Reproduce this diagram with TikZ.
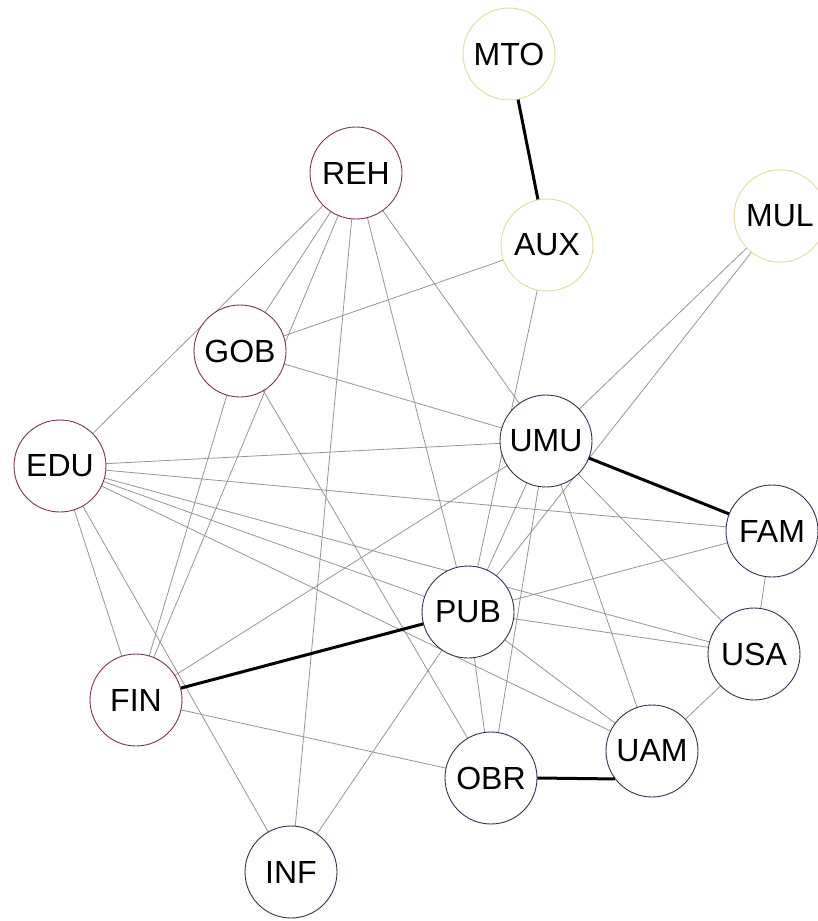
\documentclass[tikz,border=0pt]{standalone}
\usepackage{fontspec}
\setmainfont{Liberation Sans}
\definecolor{redb}{RGB}{125,55,65}
\definecolor{yelb}{RGB}{228,218,150}
\definecolor{blub}{RGB}{50,50,85}
\definecolor{edgeg}{RGB}{150,150,150}
\begin{document}
\begin{tikzpicture}[x=1pt,y=-1pt,
  vnode/.style={circle,fill=white,minimum size=92pt,inner sep=0pt,line width=0.9pt,font=\fontsize{32}{32}\selectfont},
  rnode/.style={vnode,draw=redb},
  ynode/.style={vnode,draw=yelb},
  bnode/.style={vnode,draw=blub},
  thin/.style={draw=edgeg,line width=0.8pt},
  strong/.style={draw=black,line width=3pt}]
\useasboundingbox (0,0) rectangle (817,921);
\fill[white] (0,0) rectangle (817,921);
% node centres
\coordinate (cMTO) at (509,54);
\coordinate (cREH) at (356,173);
\coordinate (cAUX) at (547,245);
\coordinate (cMUL) at (780,216);
\coordinate (cGOB) at (240,351);
\coordinate (cUMU) at (546,441);
\coordinate (cEDU) at (60,466);
\coordinate (cFAM) at (772,531);
\coordinate (cPUB) at (468,612);
\coordinate (cUSA) at (754,654);
\coordinate (cFIN) at (136,700);
\coordinate (cUAM) at (652,751);
\coordinate (cOBR) at (491,778);
\coordinate (cINF) at (291,872);
% thin edges
\foreach \a/\b in {REH/EDU,REH/GOB,REH/FIN,REH/INF,REH/PUB,REH/UMU,
  GOB/AUX,GOB/UMU,GOB/OBR,GOB/FIN,
  EDU/UMU,EDU/FAM,EDU/USA,EDU/PUB,EDU/UAM,EDU/FIN,EDU/INF,
  FIN/UMU,FIN/OBR,INF/PUB,
  UMU/MUL,UMU/PUB,UMU/OBR,UMU/UAM,UMU/USA,
  MUL/PUB,AUX/PUB,
  PUB/FAM,PUB/USA,PUB/UAM,PUB/OBR,
  FAM/USA,USA/UAM}
  \draw[thin] (c\a) -- (c\b);
% thick edges
\foreach \a/\b in {MTO/AUX,UMU/FAM,FIN/PUB}
  \draw[strong] (c\a) -- (c\b);
% nodes
\node[ynode] (MTO) at (cMTO) {MTO};
\node[rnode] (REH) at (cREH) {REH};
\node[ynode] (AUX) at (cAUX) {AUX};
\node[ynode] (MUL) at (cMUL) {MUL};
\node[rnode] (GOB) at (cGOB) {GOB};
\node[bnode] (UMU) at (cUMU) {UMU};
\node[rnode] (EDU) at (cEDU) {EDU};
\node[bnode] (FAM) at (cFAM) {FAM};
\node[bnode] (PUB) at (cPUB) {PUB};
\node[bnode] (USA) at (cUSA) {USA};
\node[rnode] (FIN) at (cFIN) {FIN};
\node[bnode] (UAM) at (cUAM) {UAM};
\node[bnode] (OBR) at (cOBR) {OBR};
\node[bnode] (INF) at (cINF) {INF};
\draw[strong] (OBR.east) -- (UAM.217);
\end{tikzpicture}
\end{document}
